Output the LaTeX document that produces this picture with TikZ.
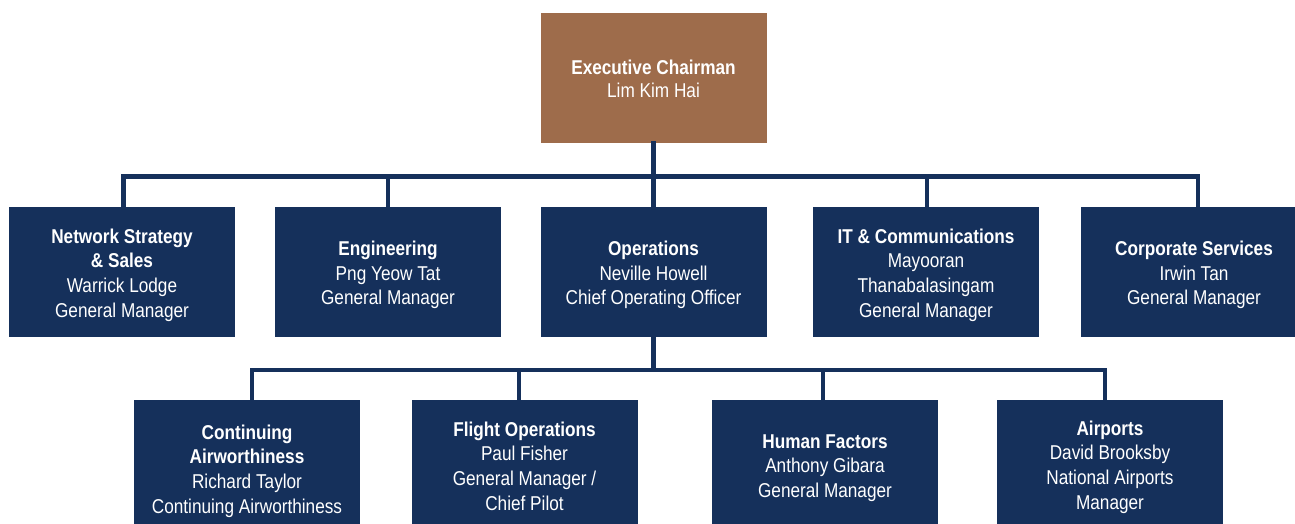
\documentclass[tikz,border=0pt]{standalone}
\usepackage{fontspec}
\setmainfont{Liberation Sans}[FakeStretch=0.86]
\definecolor{navy}{HTML}{15305B}
\definecolor{copper}{HTML}{9E6C4B}
\tikzset{
  unitbox/.style={fill=navy, inner sep=0pt,
    minimum width=226pt, minimum height=130pt},
  headbox/.style={unitbox, fill=copper},
  lowbox/.style={unitbox, minimum height=136pt},
  txt/.style={text=white, align=center, inner sep=0pt, yshift=-3pt,
    font=\fontsize{20}{24.7}\selectfont},
  link/.style={draw=navy, line width=4.5pt, line cap=rect}
}
\begin{document}
\begin{tikzpicture}[x=1pt, y=-1pt]
  \clip (0,0) rectangle (1295,523);
  \fill[white] (0,0) rectangle (1295,523);

  % executive
  \node[headbox, label={[txt, yshift=2pt, font=\fontsize{20}{23.5}\selectfont]center:{\textbf{Executive Chairman}\\Lim Kim Hai}}] (chair) at (653.5,78) {};

  % divisions
  \node[unitbox, label={[txt]center:{\textbf{Network Strategy}\\\textbf{\& Sales}\\Warrick Lodge\\General Manager}}] (nss) at (122,272) {};
  \node[unitbox, label={[txt]center:{\textbf{Engineering}\\Png Yeow Tat\\General Manager}}] (eng) at (388,272) {};
  \node[unitbox, label={[txt]center:{\textbf{Operations}\\Neville Howell\\Chief Operating Officer}}] (ops) at (653.5,272) {};
  \node[unitbox, label={[txt]center:{\textbf{IT \& Communications}\\Mayooran\\Thanabalasingam\\General Manager}}] (itc) at (926,272) {};
  \node[unitbox, label={[txt]center:{\textbf{Corporate Services}\\Irwin Tan\\General Manager}}] (cs) at (1194,272) {};

  % operations groups
  \node[lowbox, label={[txt]center:{\textbf{Continuing}\\\textbf{Airworthiness}\\Richard Taylor\\Continuing Airworthiness}}] (caw) at (247,468) {};
  \node[lowbox, label={[txt, yshift=5pt]center:{\textbf{Flight Operations}\\Paul Fisher\\General Manager /\\Chief Pilot}}] (fop) at (524.5,468) {};
  \node[lowbox, label={[txt, yshift=3pt]center:{\textbf{Human Factors}\\Anthony Gibara\\General Manager}}] (hf) at (825,468) {};
  \node[lowbox, label={[txt, yshift=4pt]center:{\textbf{Airports}\\David Brooksby\\National Airports\\Manager}}] (apt) at (1110,468) {};

  % upper bus
  \coordinate (busA) at (653.5,176.5);
  \draw[link] (chair.south) -- (busA);
  \draw[link] ([xshift=1.5pt]nss.north) -- ([xshift=1.5pt]nss.north |- busA)
              -- ([xshift=4pt]cs.north |- busA) -- ([xshift=4pt]cs.north);
  \draw[link] (eng.north) -- (eng.north |- busA);
  \draw[link] (ops.north) -- (ops.north |- busA);
  \draw[link] ([xshift=1pt]itc.north) -- ([xshift=1pt]itc.north |- busA);

  % lower bus
  \coordinate (busB) at (653.5,370);
  \draw[link] (ops.south) -- (busB);
  \draw[link] ([xshift=5pt]caw.north) -- ([xshift=5pt]caw.north |- busB)
              -- ([xshift=-5pt]apt.north |- busB) -- ([xshift=-5pt]apt.north);
  \draw[link] ([xshift=-5.5pt]fop.north) -- ([xshift=-5.5pt]fop.north |- busB);
  \draw[link] ([xshift=-2pt]hf.north) -- ([xshift=-2pt]hf.north |- busB);
\end{tikzpicture}
\end{document}
